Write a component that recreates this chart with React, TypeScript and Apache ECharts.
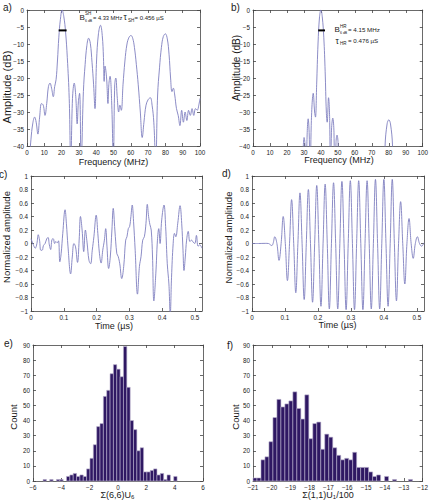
import React, { useEffect, useRef } from 'react';
import * as echarts from 'echarts';

const FONT = '"Liberation Sans", Arial, sans-serif';
const LINE = '#7f7fc0';
const AX = '#444';
const TXT = '#1a1a1a';
const BAR_FILL = '#2f1863';
const BAR_EDGE = '#b8b0cc';

// a) spectrum of SH pulse [MHz, dB]
const spectrumA: number[][] = [
  [1.2, -45], [2.3, -38], [3.3, -33.5], [4.4, -31.5], [5.3, -33], [6.3, -36.5], [7.3, -31.5], [8.4, -27.5], [9.4, -28], [10.4, -31],
  [11.4, -27.5], [12.4, -22.5], [13.3, -21.5], [14.2, -23], [15.2, -25.5], [16, -22.5], [16.8, -20.5], [17.6, -15], [18.4, -8], [19.3, -2.8],
  [20.3, 0], [21.3, -2], [22.3, -6.5], [23.3, -14], [24.4, -26], [25.3, -45], [26.3, -26], [27.3, -21.5], [28.2, -25.5], [29, -33.5],
  [29.7, -27], [30.4, -24.5], [31.3, -45], [32.6, -24], [33.6, -16], [34.6, -10.5], [35.6, -8.3], [36.6, -9.8], [37.6, -15.5], [38.5, -22],
  [39.3, -29], [40.2, -15], [41.3, -7], [42.5, -4.5], [43.5, -7.5], [44.2, -14], [44.6, -21], [45.1, -16.5], [46, -20], [46.8, -27.5],
  [47.3, -22], [48, -19.5], [49, -28], [49.9, -45], [50.7, -22], [51.3, -20], [52.2, -26], [53, -30], [53.7, -28], [54.5, -29.5],
  [55.5, -22], [56.6, -15], [57.8, -10], [59, -8], [60.1, -7.5], [61.1, -8.3], [62.1, -11], [63.2, -16], [64.3, -22], [65.5, -30],
  [66.6, -37.5], [67.6, -33], [68.8, -28], [70.1, -26.3], [71.3, -25.8], [72.3, -28], [73.3, -33], [74.4, -45], [75.5, -25], [76.6, -17],
  [77.7, -11], [78.8, -7.8], [80, -7], [81.1, -8.5], [82.1, -13], [83, -20], [83.8, -24], [84.6, -23], [85.4, -25], [86.4, -29],
  [87.4, -31], [88.4, -34], [89.4, -29.5], [90.4, -33], [91.4, -30], [92.4, -32.5], [93.4, -29.5], [94.4, -31], [95.4, -29], [96.4, -31],
  [97.4, -29], [98.4, -29.5], [99.3, -28], [100, -26],
];

// b) spectrum of HR pulse [MHz, dB]
const spectrumB: number[][] = [
  [28, -60], [29.6, -40.5], [30.1, -37.5], [30.7, -40.5], [31, -60], [31.7, -40], [32.5, -32], [33.2, -38], [33.6, -60], [34.3, -34],
  [35.5, -24.5], [36.3, -30], [36.8, -31.5], [37.5, -22], [38.3, -10], [39.2, -2], [40, 0], [40.8, -2], [41.7, -8], [42.5, -18],
  [43.2, -30], [43.7, -33], [44.5, -25.8], [45.2, -33], [45.6, -60], [46.2, -36], [47, -31.8], [47.7, -36], [48.2, -60], [48.9, -39],
  [49.5, -36.8], [50.1, -39], [50.5, -60], [77, -60], [77.8, -40], [79, -33.5], [80, -32.3], [81, -33.5], [82.2, -40], [83, -60], [100, -60],
];

// -6 dB bandwidth markers [start MHz, end MHz]
const bandA = [18.3, 22.9];
const bandB = [38.4, 42.4];
const bandLevel = -6;

// c) SH waveform [µs, normalized amplitude]
const waveC: number[][] = [
  [0, 0.07], [0.004, 0.02], [0.008, -0.03], [0.013, -0.07], [0.018, 0.0], [0.022, 0.13], [0.026, 0.05], [0.03, -0.1], [0.034, -0.1], [0.038, -0.03],
  [0.043, 0.0], [0.048, 0.07], [0.052, 0.09], [0.056, -0.02], [0.06, -0.09], [0.064, 0.06], [0.068, 0.07], [0.072, 0.0], [0.076, 0.03], [0.08, 0.01],
  [0.084, 0.04], [0.088, -0.27], [0.092, -0.15], [0.097, 0.15], [0.104, 0.5], [0.108, 0.3], [0.113, -0.05], [0.121, -0.45], [0.126, -0.2], [0.131, 0.0],
  [0.136, -0.05], [0.142, -0.28], [0.147, 0.05], [0.151, 0.4], [0.156, 0.2], [0.161, -0.12], [0.166, 0.2], [0.171, 0.02], [0.177, -0.25], [0.182, -0.3],
  [0.187, -0.1], [0.192, 0.1], [0.199, 0.42], [0.204, 0.15], [0.209, -0.15], [0.214, -0.29], [0.219, -0.1], [0.224, 0.05], [0.228, 0.22], [0.232, -0.05],
  [0.237, -0.37], [0.242, -0.2], [0.247, 0.2], [0.251, 0.52], [0.256, 0.2], [0.262, -0.15], [0.266, -0.19], [0.271, -0.3], [0.277, -0.52], [0.283, -0.34],
  [0.289, 0.05], [0.293, 0.1], [0.297, 0.22], [0.301, 0.25], [0.305, 0.4], [0.309, 0.57], [0.313, 0.33], [0.318, -0.1], [0.325, -0.75], [0.331, -0.34],
  [0.336, -0.19], [0.341, 0.05], [0.346, 0.1], [0.351, 0.3], [0.355, 0.58], [0.359, 0.4], [0.363, 0.28], [0.367, 0.2], [0.371, -0.2], [0.375, -0.85],
  [0.381, -0.45], [0.386, 0.05], [0.39, 0.22], [0.394, 0.0], [0.399, 0.35], [0.406, 0.57], [0.411, 0.25], [0.416, -0.3], [0.421, -0.6], [0.425, -1.05],
  [0.429, -0.5], [0.434, 0.0], [0.438, 0.15], [0.442, 0.1], [0.448, 0.3], [0.455, 0.56], [0.46, 0.3], [0.464, -0.1], [0.467, -0.4], [0.471, -0.2],
  [0.475, 0.05], [0.48, 0.18], [0.485, 0.03], [0.49, 0.05], [0.495, 0.02], [0.5, 0.0], [0.505, 0.12], [0.51, -0.04], [0.515, -0.02], [0.522, -0.07],
];

// d) HR waveform [µs, normalized amplitude]
const waveD: number[][] = [
  [0, 0], [0.02, 0.0], [0.04, 0.002], [0.05, 0.0], [0.056, -0.02], [0.06, -0.03], [0.064, 0.0],
  [0.0692, 0.1], [0.0756, 0.0], [0.082, -0.25], [0.0884, 0.0], [0.0947, 0.4], [0.1011, 0.0], [0.1075, -0.55], [0.1139, 0.0],
  [0.1202, 0.65], [0.1266, 0.0], [0.1329, -0.73], [0.1393, 0.0], [0.1456, 0.75], [0.152, 0.0], [0.1584, -0.83], [0.1648, 0.0],
  [0.1711, 0.8], [0.1775, 0.0], [0.1838, -0.87], [0.1902, 0.0], [0.1965, 0.86], [0.2029, 0.0], [0.2093, -0.93], [0.2157, 0.0],
  [0.222, 0.88], [0.2284, 0.0], [0.2347, -0.97], [0.2411, 0.0], [0.2475, 0.9], [0.2539, 0.0], [0.2602, -0.97], [0.2666, 0.0],
  [0.2729, 0.92], [0.2793, 0.0], [0.2856, -0.98], [0.292, 0.0], [0.2984, 0.93], [0.3048, 0.0], [0.3111, -0.98], [0.3175, 0.0],
  [0.3238, 0.93], [0.3302, 0.0], [0.3366, -0.98], [0.343, 0.0], [0.3493, 0.93], [0.3557, 0.0], [0.362, -0.97], [0.3684, 0.0],
  [0.3747, 0.95], [0.3811, 0.0], [0.3875, -0.97], [0.3939, 0.0], [0.4002, 0.95], [0.4066, 0.0], [0.413, -0.93], [0.4194, 0.0],
  [0.4257, 0.95], [0.4321, 0.0], [0.4384, -0.85], [0.4448, 0.0], [0.4511, 0.62], [0.4575, 0.0], [0.4638, -0.6], [0.4702, 0.0],
  [0.4766, 0.37], [0.483, 0.0], [0.4893, -0.22], [0.4957, 0.0], [0.502, 0.1], [0.5084, 0.0], [0.5148, -0.04], [0.522, 0.01],
];

// e) histogram of Σ(6,6)U6
const eStart = -5.29;
const eWidth = 0.2365;
const eCounts = [1, 0, 1, 0, 1, 1, 0, 3, 4, 5, 3, 4, 3, 8, 15, 24, 36, 38, 56, 60, 71, 77, 74, 69, 89, 62, 40, 34, 20, 22, 6, 6, 7, 8, 4, 5, 1, 4, 0, 3];

// f) histogram of Σ(1,1)U1/100
const fStart = -21;
const fWidth = 0.2115;
const fCounts = [2, 2, 14, 16, 26, 42, 54, 49, 51, 53, 59, 48, 41, 57, 28, 38, 39, 21, 31, 29, 22, 17, 14, 15, 14, 19, 9, 9, 9, 6, 3, 4, 0, 3, 0, 1, 0, 0, 0, 1];

type Panel = {
  l: number; t: number; w: number; h: number;
  xmin: number; xmax: number; xint: number;
  ymin: number; ymax: number; yint: number;
  hideXMax?: boolean;
};

const panels: Panel[] = [
  { l: 27, t: 10, w: 173, h: 136, xmin: 0, xmax: 100, xint: 10, ymin: -40, ymax: 0, yint: 5 },
  { l: 253, t: 10, w: 170, h: 136, xmin: 0, xmax: 100, xint: 10, ymin: -40, ymax: 0, yint: 5 },
  { l: 31, t: 176, w: 171, h: 135, xmin: 0, xmax: 0.522, xint: 0.1, ymin: -1, ymax: 1, yint: 0.2, hideXMax: true },
  { l: 252, t: 176, w: 172, h: 135, xmin: 0, xmax: 0.522, xint: 0.1, ymin: -1, ymax: 1, yint: 0.2, hideXMax: true },
  { l: 33, t: 345, w: 170, h: 136, xmin: -6, xmax: 6, xint: 2, ymin: 0, ymax: 90, yint: 10 },
  { l: 253, t: 345, w: 171, h: 136, xmin: -21, xmax: -12, xint: 1, ymin: 0, ymax: 90, yint: 10 },
];

const fmt = (v: number) => (v < 0 ? '\u2212' + String(-v) : String(v));

function axis(kind: 'x' | 'y', i: number, p: Panel, secondary: boolean) {
  const isX = kind === 'x';
  return {
    type: 'value',
    gridIndex: i,
    min: isX ? p.xmin : p.ymin,
    max: isX ? p.xmax : p.ymax,
    interval: isX ? p.xint : p.yint,
    position: isX ? (secondary ? 'top' : 'bottom') : secondary ? 'right' : 'left',
    axisLine: { show: true, onZero: false, lineStyle: { color: AX, width: 0.8 } },
    axisTick: { show: true, inside: true, length: 3, lineStyle: { color: AX, width: 0.8 } },
    axisLabel: {
      show: !secondary,
      fontSize: 6.3,
      fontFamily: FONT,
      color: TXT,
      margin: 3,
      formatter: fmt,
      showMaxLabel: isX && p.hideXMax ? false : true,
    },
    splitLine: { show: false },
  };
}

const lineSeries = (idx: number, data: number[][]) => ({
  type: 'line',
  xAxisIndex: idx,
  yAxisIndex: idx,
  data,
  showSymbol: false,
  smooth: 0.4,
  clip: true,
  silent: true,
  lineStyle: { color: LINE, width: 0.9 },
});

const bandSeries = (idx: number, band: number[]) => ({
  type: 'line',
  xAxisIndex: idx,
  yAxisIndex: idx,
  data: [[band[0], bandLevel], [band[1], bandLevel]],
  showSymbol: false,
  silent: true,
  lineStyle: { color: '#000', width: 2 },
});

const histSeries = (idx: number, start: number, width: number, counts: number[]) => ({
  type: 'custom',
  xAxisIndex: idx,
  yAxisIndex: idx,
  silent: true,
  data: counts.map((c, i) => [start + i * width, start + (i + 1) * width, c]),
  encode: { x: [0, 1], y: 2 },
  renderItem: (_params: any, api: any) => {
    const c = api.value(2);
    if (!c) return null;
    const p0 = api.coord([api.value(0), c]);
    const p1 = api.coord([api.value(1), 0]);
    return {
      type: 'rect',
      shape: { x: p0[0], y: p0[1], width: p1[0] - p0[0], height: p1[1] - p0[1] },
      style: { fill: BAR_FILL, stroke: BAR_EDGE, lineWidth: 0.6 },
    };
  },
});

const t = (x: number, y: number, text: string, size: number, align: string = 'left') => ({
  type: 'text',
  x,
  y,
  silent: true,
  style: {
    text,
    fontSize: size,
    fontFamily: FONT,
    fill: TXT,
    align,
    verticalAlign: 'middle',
  },
});

const vt = (x: number, y: number, text: string, size: number) => ({
  type: 'text',
  x,
  y,
  rotation: Math.PI / 2,
  silent: true,
  style: { text, fontSize: size, fontFamily: FONT, fill: TXT, align: 'center', verticalAlign: 'middle' },
});

const richTitle = (x: number, y: number, pre: string, sub: string, post: string) => ({
  type: 'text',
  x,
  y,
  silent: true,
  style: {
    text: `{n|${pre}}{s|${sub}}` + (post ? `{n|${post}}` : ''),
    align: 'center',
    verticalAlign: 'middle',
    fill: TXT,
    rich: {
      n: { fontSize: 9, fontFamily: FONT, fill: TXT, lineHeight: 10, verticalAlign: 'middle' },
      s: { fontSize: 6, fontFamily: FONT, fill: TXT, lineHeight: 10, verticalAlign: 'bottom' },
    },
  },
});

function buildOption() {
  const graphic: any[] = [
    // panel letters
    t(3, 7, 'a)', 10), t(231, 7, 'b)', 10), t(-1, 174, 'c)', 10),
    t(222, 173, 'd)', 10), t(4, 343.5, 'e)', 10), t(227, 345, 'f)', 10),
    // annotation a
    t(79.5, 17.5, 'B', 8), t(85, 13.3, 'SH', 4.5), t(85, 20.8, '6 dB', 3.5),
    t(93, 17.5, '= 4.33 MHz', 5.7), t(123.5, 17, 'τ', 8.5), t(128, 20.3, 'SH', 4.5),
    t(134.5, 17.5, '= 0.456 µS', 6),
    // annotation b
    t(334.5, 29.5, 'B', 8), t(340, 26.3, 'HR', 4.5), t(340, 33, '6 dB', 3.5),
    t(348, 29.5, '= 4.15 MHz', 6.2), t(335.5, 40.5, 'τ', 8.5), t(340, 43.3, 'HR', 4.5),
    t(348, 40.7, '= 0.476 µS', 6.2),
    // x titles
    t(113.5, 161.5, 'Frequency (MHz)', 9, 'center'),
    t(339, 160, 'Frequency (MHz)', 9, 'center'),
    t(114, 325.5, 'Time (µs)', 9, 'center'),
    t(337.5, 324.5, 'Time (µs)', 9, 'center'),
    richTitle(117.5, 495, 'Σ(6,6)U', '6', ''),
    richTitle(328, 495, 'Σ(1,1)U', '1', '/100'),
    // y titles
    vt(6.7, 87, 'Amplitude (dB)', 11),
    vt(236.5, 68, 'Amplitude (dB)', 10),
    vt(6.7, 237, 'Normalized amplitude', 9.5),
    vt(228, 237.5, 'Normalized amplitude', 9.5),
    vt(13.3, 417, 'Count', 9.5),
    vt(235.3, 417, 'Count', 9.5),
  ];

  return {
    animation: false,
    backgroundColor: '#fff',
    grid: panels.map((p) => ({ left: p.l, top: p.t, width: p.w, height: p.h, containLabel: false })),
    xAxis: [
      ...panels.map((p, i) => axis('x', i, p, false)),
      ...panels.map((p, i) => axis('x', i, p, true)),
    ],
    yAxis: [
      ...panels.map((p, i) => axis('y', i, p, false)),
      ...panels.map((p, i) => axis('y', i, p, true)),
    ],
    series: [
      lineSeries(0, spectrumA),
      bandSeries(0, bandA),
      lineSeries(1, spectrumB),
      bandSeries(1, bandB),
      lineSeries(2, waveC),
      lineSeries(3, waveD),
      histSeries(4, eStart, eWidth, eCounts),
      histSeries(5, fStart, fWidth, fCounts),
    ],
    graphic,
  };
}

export default function App() {
  const ref = useRef<HTMLDivElement>(null);
  useEffect(() => {
    const chart = echarts.init(ref.current!, null, { renderer: 'svg' });
    chart.setOption(buildOption() as any);
    return () => chart.dispose();
  }, []);
  return (
    <div
      ref={ref}
      style={{ position: 'absolute', left: 0, top: 0, width: 431, height: 500, background: '#fff' }}
    />
  );
}
